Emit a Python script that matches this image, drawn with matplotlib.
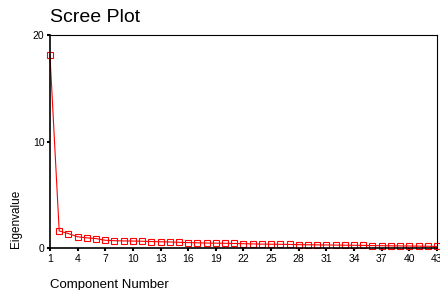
import matplotlib
matplotlib.use("Agg")
import matplotlib.pyplot as plt

plt.rcParams["font.family"] = ["Liberation Sans", "DejaVu Sans"]

# Autovalori per componente
components = list(range(1, 44))
eigenvalues = [18.1, 1.6, 1.35, 1.05, 0.95, 0.88, 0.72, 0.68, 0.66, 0.65,
               0.63, 0.60, 0.58, 0.56, 0.53, 0.50, 0.48, 0.46, 0.45, 0.44,
               0.42, 0.40, 0.38, 0.36, 0.35, 0.34, 0.33, 0.31, 0.30, 0.29,
               0.28, 0.27, 0.26, 0.25, 0.24, 0.22, 0.21, 0.20, 0.19, 0.18,
               0.17, 0.16, 0.14]
x_ticks = list(range(1, 44, 3))
y_ticks = [0, 10, 20]

fig = plt.figure(figsize=(4.4, 2.9), dpi=100)
ax = fig.add_axes([0.1136, 0.145, 0.8795, 0.734])

ax.plot(components, eigenvalues, color="red", linewidth=0.8,
        marker="s", markersize=5, markerfacecolor="none",
        markeredgecolor="red", markeredgewidth=0.8, clip_on=False)

ax.set_xlim(1, 43)
ax.set_ylim(0, 20)
ax.set_xticks(x_ticks)
ax.set_yticks(y_ticks)
ax.tick_params(labelsize=7.5, length=2, width=1.5, direction="out", pad=2)
for s in ax.spines.values():
    s.set_linewidth(0.8)
ax.spines["left"].set_linewidth(1.2)
ax.spines["bottom"].set_linewidth(1.2)

fig.text(0.114, 0.94, "Scree Plot", fontsize=14, va="center")
fig.text(0.114, 0.017, "Component Number", fontsize=9.5, va="center")
fig.text(0.036, 0.145, "Eigenvalue", fontsize=8.5, rotation=90,
         ha="center", va="bottom")

fig.savefig("out.png", dpi=100)
